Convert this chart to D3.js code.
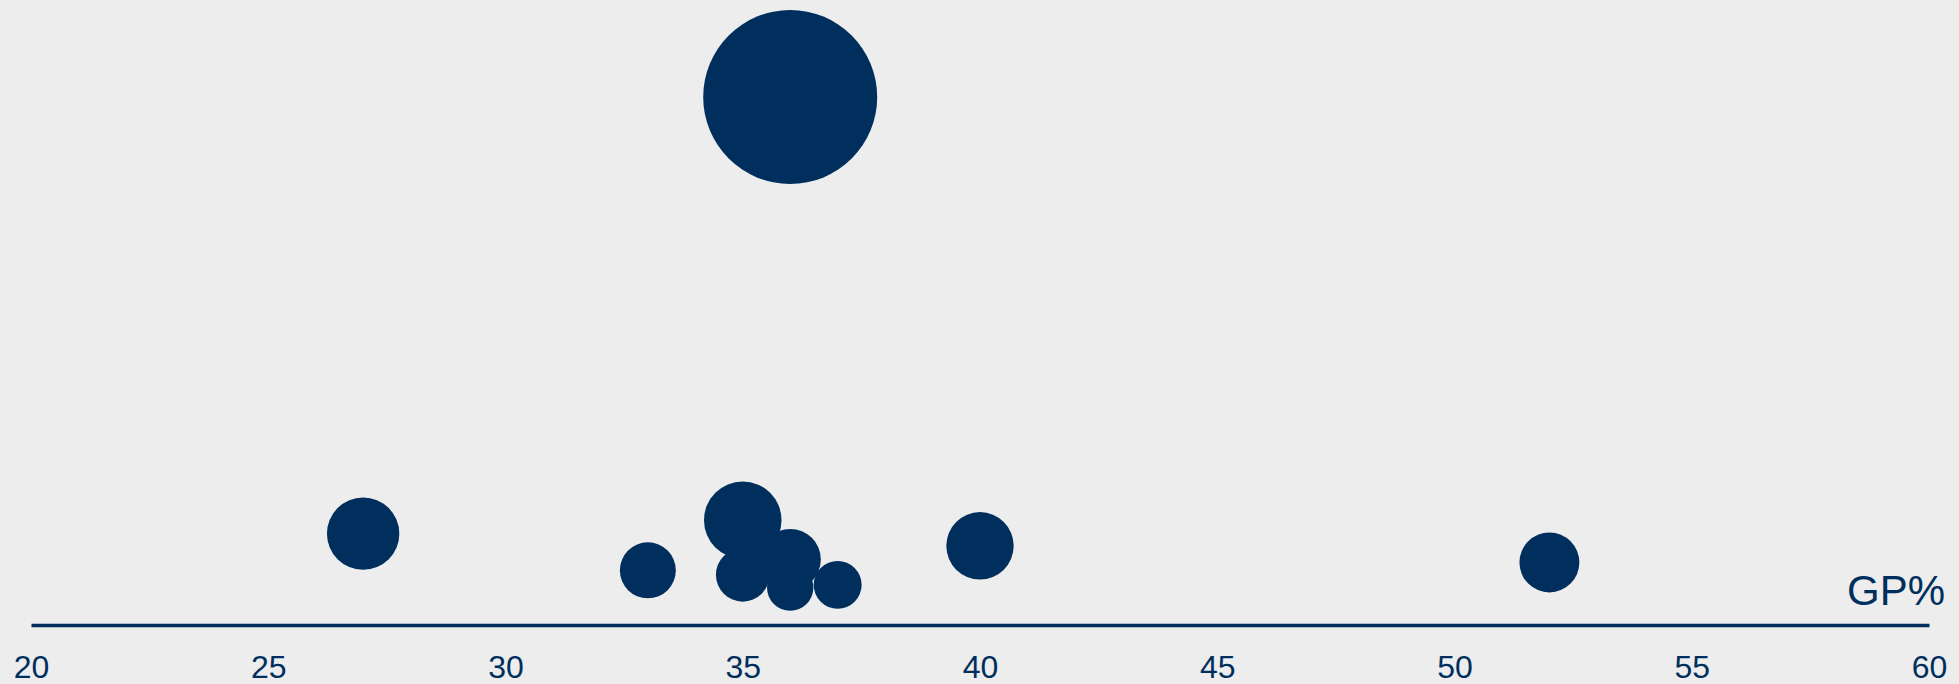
<!DOCTYPE html>
<html>
<head>
<meta charset="utf-8">
<script src="https://cdn.jsdelivr.net/npm/d3@7"></script>
<style>
  html, body { margin: 0; padding: 0; background: #ededed; }
  svg { display: block; }
  text { font-family: "Liberation Sans", Arial, sans-serif; }
</style>
</head>
<body>
<svg id="chart" width="1959" height="684"></svg>
<script>
// GP% for each bubble and the value that sets both its height and its size
const gpPercent = [27, 33, 35, 35, 36, 36, 37, 40, 52, 36];
const bubbleValue = [17.3, 10.35, 19.85, 9.5, 12.4, 7.1, 7.6, 15, 11.85, 100];
const tickValues = [20, 25, 30, 35, 40, 45, 50, 55, 60];
const axisTitle = "GP%";

const navy = "#002f5e";
const svg = d3.select("#chart");
const axisY = 625;

const x = d3.scaleLinear().domain([20, 60]).range([31, 1929]);
const y = d3.scaleLinear().domain([0, 100]).range([axisY, 97]);
const r = d3.scaleSqrt().domain([0, 100]).range([0, 87]);

const data = gpPercent.map((g, i) => ({ gp: g, v: bubbleValue[i] }));

svg.append("g")
  .selectAll("circle")
  .data(data)
  .join("circle")
  .attr("cx", d => x(d.gp))
  .attr("cy", d => y(d.v))
  .attr("r", d => r(d.v))
  .attr("fill", navy);

const axis = svg.append("g")
  .attr("transform", `translate(0,${axisY})`)
  .call(d3.axisBottom(x).tickValues(tickValues).tickSize(0).tickSizeOuter(0).tickPadding(30).tickFormat(d3.format("d")));

axis.select(".domain").attr("stroke", navy).attr("stroke-width", 3.5);
axis.selectAll(".tick text")
  .attr("fill", navy)
  .attr("font-size", 32)
  .attr("font-family", "Liberation Sans, Arial, sans-serif");

svg.append("text")
  .attr("x", 1945)
  .attr("y", 605)
  .attr("text-anchor", "end")
  .attr("font-size", 42)
  .attr("fill", navy)
  .text(axisTitle);
</script>
</body>
</html>
